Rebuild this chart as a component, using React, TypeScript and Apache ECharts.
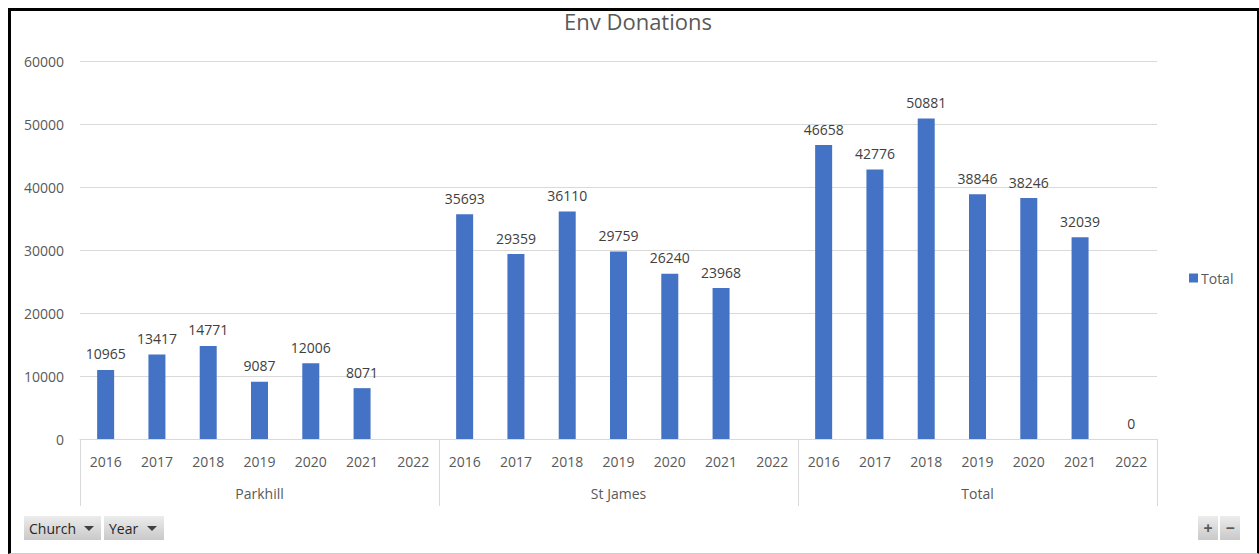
import React, { useEffect, useRef } from "react";
import * as echarts from "echarts";

const years = ["2016", "2017", "2018", "2019", "2020", "2021", "2022"];
const churches = ["Parkhill", "St James", "Total"];
const parkhill: (number | null)[] = [10965, 13417, 14771, 9087, 12006, 8071, null];
const stJames: (number | null)[] = [35693, 29359, 36110, 29759, 26240, 23968, null];
const total: (number | null)[] = [46658, 42776, 50881, 38846, 38246, 32039, 0];
const seriesName = "Total";
const titleText = "Env Donations";

const FONT = "'Open Sans', 'Noto Sans', sans-serif";
const AXIS_COLOR = "#595959";
const GRID_COLOR = "#d9d9d9";

export default function App() {
  const ref = useRef<HTMLDivElement>(null);

  useEffect(() => {
    if (!ref.current) return;
    const chart = echarts.init(ref.current, undefined, { renderer: "svg" });
    const yearCats = [...years, ...years, ...years];
    const values = [...parkhill, ...stJames, ...total];

    const btnFill = new echarts.graphic.LinearGradient(0, 0, 0, 1, [
      { offset: 0, color: "#ececec" },
      { offset: 1, color: "#c9c9c9" },
    ]);
    const button = (x: number, w: number, label: string) => ({
      type: "group",
      x,
      y: 516,
      children: [
        { type: "rect", shape: { x: 0, y: 0, width: w, height: 24 }, style: { fill: btnFill } },
        {
          type: "text",
          x: 5,
          y: 12,
          style: { text: label, fill: "#262626", font: `14px ${FONT}`, textVerticalAlign: "middle" },
        },
        {
          type: "polygon",
          shape: { points: [[w - 17, 10], [w - 7, 10], [w - 12, 15]] },
          style: { fill: "#404040" },
        },
      ],
    });
    const smallButton = (x: number, label: string) => ({
      type: "group",
      x,
      y: 516,
      children: [
        { type: "rect", shape: { x: 0, y: 0, width: 20, height: 24 }, style: { fill: btnFill } },
        {
          type: "text",
          x: 10,
          y: 12,
          style: {
            text: label,
            fill: "#595959",
            font: `bold 16px ${FONT}`,
            textAlign: "center",
            textVerticalAlign: "middle",
          },
        },
      ],
    });

    chart.setOption({
      animation: false,
      backgroundColor: "#ffffff",
      textStyle: { fontFamily: FONT },
      title: {
        text: titleText,
        left: 633,
        textAlign: "center",
        top: 5,
        textStyle: { fontFamily: FONT, fontSize: 22, fontWeight: "normal", color: AXIS_COLOR },
      },
      legend: {
        data: [seriesName],
        left: 1184,
        top: 266,
        icon: "rect",
        itemWidth: 9,
        itemHeight: 9,
        itemGap: 4,
        textStyle: { fontFamily: FONT, fontSize: 14, color: AXIS_COLOR, padding: [0, 0, 0, -2] },
      },
      grid: { left: 80, right: 102, top: 61, bottom: 115, containLabel: false },
      xAxis: [
        {
          type: "category",
          data: yearCats,
          position: "bottom",
          axisLine: { show: true, lineStyle: { color: GRID_COLOR, width: 1 } },
          axisTick: { show: false },
          axisLabel: { interval: 0, margin: 15, fontSize: 14, color: AXIS_COLOR, fontFamily: FONT },
          splitLine: { show: false },
        },
        {
          type: "category",
          data: churches,
          position: "bottom",
          axisLine: { show: false },
          axisTick: { show: true, length: 67, lineStyle: { color: GRID_COLOR, width: 1 } },
          axisLabel: { interval: 0, margin: 47, fontSize: 14, color: AXIS_COLOR, fontFamily: FONT },
          splitLine: { show: false },
        },
      ],
      yAxis: {
        type: "value",
        min: 0,
        max: 60000,
        interval: 10000,
        axisLine: { show: false },
        axisTick: { show: false },
        axisLabel: {
          margin: 16,
          fontSize: 14,
          color: AXIS_COLOR,
          fontFamily: FONT,
          formatter: (v: number) => String(v),
        },
        splitLine: { lineStyle: { color: GRID_COLOR, width: 1 } },
      },
      series: [
        {
          name: seriesName,
          type: "bar",
          xAxisIndex: 0,
          data: values,
          barWidth: 17,
          itemStyle: { color: "#4472c4" },
          label: {
            show: true,
            position: "top",
            distance: 9,
            fontSize: 14,
            color: "#404040",
            fontFamily: FONT,
          },
        },
      ],
      graphic: [
        button(24, 77, "Church"),
        button(104, 60, "Year"),
        smallButton(1198, "+"),
        smallButton(1220, "\u2212"),
      ],
    });
    return () => chart.dispose();
  }, []);

  return (
    <div style={{ position: "fixed", left: 0, top: 0, width: 1259, height: 554, background: "#fff" }}>
      <div ref={ref} style={{ position: "absolute", left: 0, top: 0, width: 1259, height: 554 }} />
      <div
        style={{
          position: "absolute",
          left: 8,
          top: 8,
          width: 1246,
          height: 542,
          borderLeft: "3px solid #000",
          borderTop: "3px solid #000",
          borderRight: "3px solid #000",
          borderBottom: "1px solid #d0d0d0",
          pointerEvents: "none",
        }}
      />
    </div>
  );
}
